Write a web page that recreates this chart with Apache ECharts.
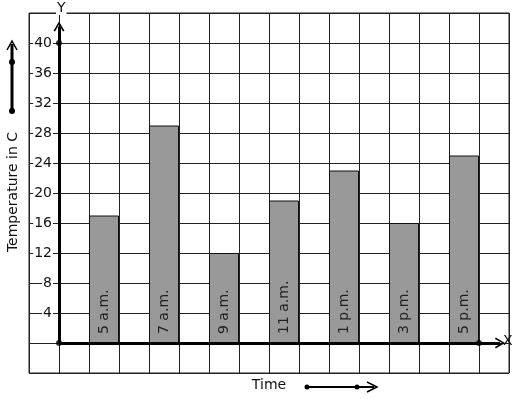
<!DOCTYPE html>
<html>
<head>
<meta charset="utf-8">
<script src="https://cdn.jsdelivr.net/npm/echarts@6/dist/echarts.min.js"></script>
<style>
html, body { margin: 0; padding: 0; background: #fff; }
#chart { width: 517px; height: 399px; }
</style>
</head>
<body>
<div id="chart"></div>
<script>
const times = ['5 a.m.', '7 a.m.', '9 a.m.', '11 a.m.', '1 p.m.', '3 p.m.', '5 p.m.'];
const temps = [17, 29, 12, 19, 23, 16, 25];
// each bar sits in every other grid column, right of the y axis
const slots = [1.5, 3.5, 5.5, 7.5, 9.5, 11.5, 13.5];
const dots = [[0, 0], [0, 40], [14, 0]];

const font = 'DejaVu Sans';
const chevron = 'path://M0,10 L5,0 L10,10 L8.6,10.8 L5,3.2 L1.4,10.8 Z';

let myChart = echarts.init(document.getElementById('chart'));

let option = {
    animation: false,
    textStyle: { fontFamily: font },
    grid: {
        left: 29, right: 8, top: 13, bottom: 26,
        containLabel: false,
        outerBoundsMode: 'none',
        show: true, borderColor: '#222', borderWidth: 1
    },
    xAxis: {
        type: 'value',
        min: -1,
        max: 15,
        interval: 1,
        axisLine: { onZero: false, lineStyle: { color: 'transparent' } },
        axisTick: { show: false },
        axisLabel: { show: false },
        splitLine: { lineStyle: { color: '#222', width: 1 } }
    },
    yAxis: {
        type: 'value',
        min: -4,
        max: 44,
        interval: 4,
        offset: -30, // sit on x = 0, one column in from the grid edge
        axisLine: { onZero: false, lineStyle: { color: 'transparent' } },
        axisTick: { show: false },
        axisLabel: {
            margin: 6,
            fontFamily: font,
            fontSize: 14,
            color: '#111',
            backgroundColor: '#fff',
            padding: [0, 1, 0, 1],
            formatter: v => (v >= 4 && v <= 40 ? String(v) : '')
        },
        splitLine: { lineStyle: { color: '#222', width: 1 } }
    },
    series: [{
        type: 'bar',
        barWidth: 30,
        data: slots.map((x, i) => [x, temps[i]]),
        itemStyle: { color: '#999999', borderColor: '#111', borderWidth: 1 },
        label: {
            show: true,
            position: 'insideBottom',
            rotate: 90,
            align: 'left',
            verticalAlign: 'middle',
            distance: 9,
            fontFamily: font,
            fontSize: 14,
            color: '#222',
            formatter: p => times[p.dataIndex]
        },
        markLine: {
            silent: true,
            symbol: ['none', chevron],
            symbolSize: [11, 10],
            label: { show: false },
            lineStyle: { color: '#000', width: 3, type: 'solid' },
            data: [
                [{ coord: [0, 0] }, { coord: [0, 42.2] }],
                [{ coord: [0, 0] }, { coord: [14.7, 0] }]
            ]
        },
        z: 3
    }, {
        type: 'scatter',
        data: dots,
        symbolSize: 6,
        itemStyle: { color: '#000' },
        z: 5
    }],
    graphic: {
        elements: [
            { type: 'text', x: 56, y: 1, z: 100, style: { text: 'Y', font: '14px ' + font, fill: '#111', backgroundColor: '#fff', padding: [0, 1] } },
            { type: 'text', x: 503, y: 334, z: 100, style: { text: 'X', font: '14px ' + font, fill: '#111' } },
            // axis titles
            { type: 'text', x: 13, y: 192, rotation: Math.PI / 2, z: 100,
              style: { text: 'Temperature in C', font: '14px ' + font, fill: '#111', align: 'center', verticalAlign: 'middle' } },
            { type: 'text', x: 269, y: 385, z: 100,
              style: { text: 'Time', font: '14px ' + font, fill: '#111', align: 'center', verticalAlign: 'middle' } },
            // arrow next to the y title
            { type: 'line', z: 100, shape: { x1: 12, y1: 111, x2: 12, y2: 44 }, style: { stroke: '#000', lineWidth: 3 } },
            { type: 'polyline', z: 100, shape: { points: [[7, 50], [12, 41], [17, 50]] }, style: { stroke: '#000', lineWidth: 1.5, fill: null } },
            { type: 'circle', z: 100, shape: { cx: 12, cy: 111, r: 3 }, style: { fill: '#000' } },
            { type: 'circle', z: 100, shape: { cx: 12, cy: 62, r: 3 }, style: { fill: '#000' } },
            // arrow next to the x title
            { type: 'line', z: 100, shape: { x1: 307, y1: 387, x2: 374, y2: 387 }, style: { stroke: '#000', lineWidth: 2 } },
            { type: 'polyline', z: 100, shape: { points: [[367, 382], [377, 387], [367, 392]] }, style: { stroke: '#000', lineWidth: 1.5, fill: null } },
            { type: 'circle', z: 100, shape: { cx: 307, cy: 387, r: 2.5 }, style: { fill: '#000' } },
            { type: 'circle', z: 100, shape: { cx: 357, cy: 387, r: 2.5 }, style: { fill: '#000' } }
        ]
    }
};

myChart.setOption(option);
</script>
</body>
</html>
